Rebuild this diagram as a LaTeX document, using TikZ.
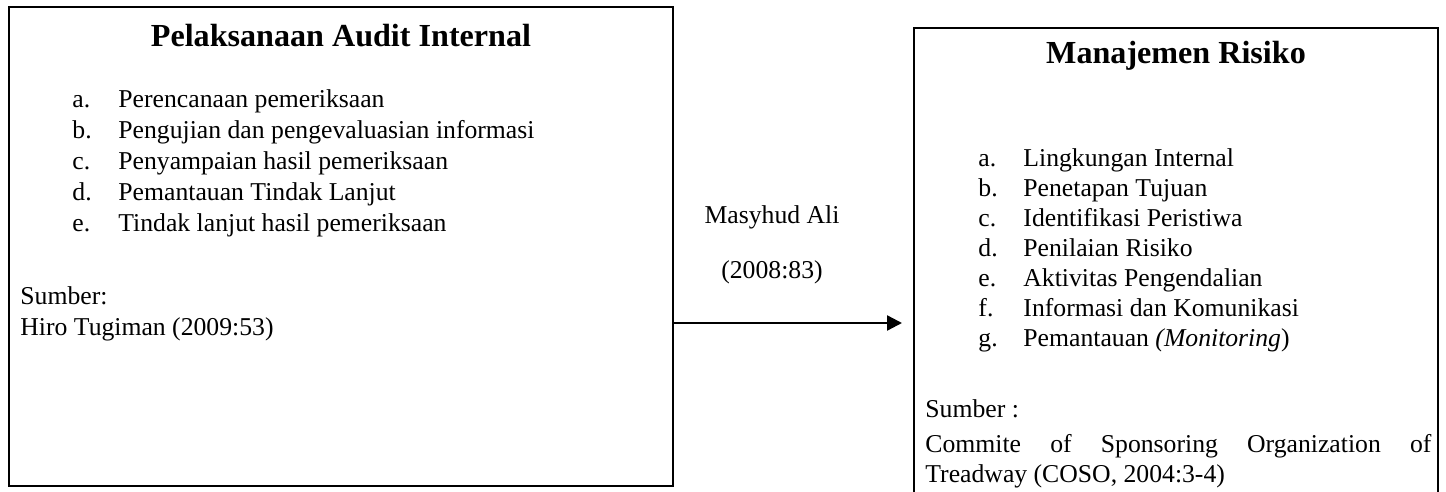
\documentclass[tikz,border=0pt]{standalone}
\usepackage{fontspec}
\setmainfont{Liberation Serif}
\usetikzlibrary{arrows.meta}

\begin{document}
\begin{tikzpicture}[x=0.467pt,y=0.467pt,yscale=-1,xscale=1,
  txt/.style={anchor=base west,inner sep=0pt,font=\fontsize{12}{14}\selectfont},
  ttl/.style={anchor=base,inner sep=0pt,font=\fontsize{15}{18}\selectfont\bfseries},
  mid/.style={anchor=base,inner sep=0pt,font=\fontsize{12}{14}\selectfont}]

\useasboundingbox (0,0) rectangle (1446,492);

%Shape: Rectangle [left box]
\node (boxleft) [draw,line width=1pt,inner sep=0pt,minimum width=310.1pt,minimum height=223.7pt] at (341,246.5) {};
%Shape: open box [right]
\draw [line width=0.9pt]  (914,495) -- (914,28) -- (1438,28) -- (1438,495) ;

% Text Node
\draw (341,47) node [ttl] (ttlleft) {Pelaksanaan Audit Internal};
% Text Node
\draw (72,108) node [txt] (la) {a.};
\draw (118,108) node [txt] (lat) {Perencanaan pemeriksaan};
% Text Node
\draw (72,139) node [txt] (lb) {b.};
\draw (118,139) node [txt] (lbt) {Pengujian dan pengevaluasian informasi};
% Text Node
\draw (72,170) node [txt] (lc) {c.};
\draw (118,170) node [txt] (lct) {Penyampaian hasil pemeriksaan};
% Text Node
\draw (72,201) node [txt] (ld) {d.};
\draw (118,201) node [txt] (ldt) {Pemantauan Tindak Lanjut};
% Text Node
\draw (72,232) node [txt] (le) {e.};
\draw (118,232) node [txt] (let) {Tindak lanjut hasil pemeriksaan};
% Text Node
\draw (20,305) node [txt] (srcleft) {Sumber:};
\draw (20,336) node [txt] (refleft) {Hiro Tugiman (2009:53)};

% Text Node
\draw (772,224) node [mid] (author) {Masyhud Ali};
\draw (772,279) node [mid] (year) {(2008:83)};

%Straight Lines [arrow]
\coordinate (arrowend) at (902,323);
\draw [line width=1.1pt,-{Triangle[length=7pt,width=7pt]}] (boxleft.east |- arrowend) -- (arrowend) ;

% Text Node
\draw (1176,64) node [ttl] (ttlright) {Manajemen Risiko};
% Text Node
\draw (978,167) node [txt] (ra) {a.};
\draw (1023,167) node [txt] (rat) {Lingkungan Internal};
\draw (978,197) node [txt] (rb) {b.};
\draw (1023,197) node [txt] (rbt) {Penetapan Tujuan};
\draw (978,227) node [txt] (rc) {c.};
\draw (1023,227) node [txt] (rct) {Identifikasi Peristiwa};
\draw (978,257) node [txt] (rd) {d.};
\draw (1023,257) node [txt] (rdt) {Penilaian Risiko};
\draw (978,287) node [txt] (re) {e.};
\draw (1023,287) node [txt] (ret) {Aktivitas Pengendalian};
\draw (978,317) node [txt] (rf) {f.};
\draw (1023,317) node [txt] (rft) {Informasi dan Komunikasi};
\draw (978,347) node [txt] (rg) {g.};
\draw (1023,347) node [txt] (rgt) {Pemantauan \textit{(Monitoring})};
% Text Node
\draw (925,417) node [txt] (srcright) {Sumber :};
\draw (925,452) node [txt] (refright) {\hbox to 236.3pt{Commite\hfill of\hfill Sponsoring\hfill Organization\hfill of}};
\draw (925,482) node [txt] (refright2) {Treadway (COSO, 2004:3-4)};

\end{tikzpicture}
\end{document}
